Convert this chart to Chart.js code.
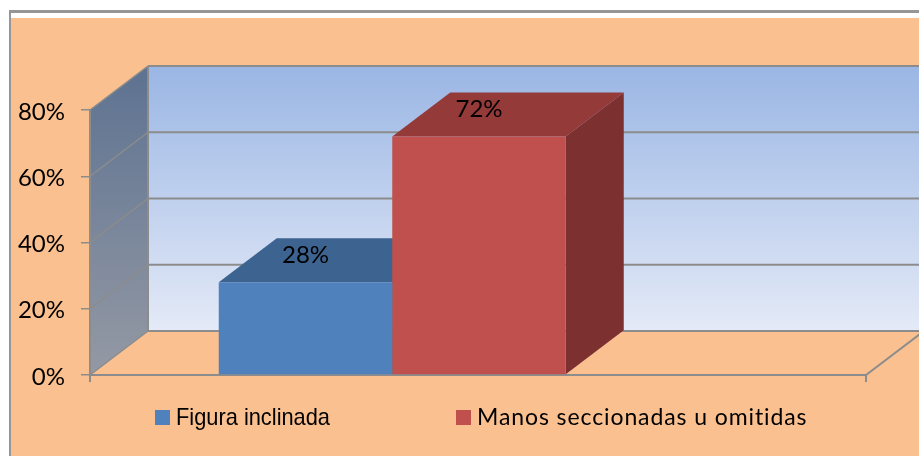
<!DOCTYPE html>
<html><head><meta charset="utf-8">
<style>html,body{margin:0;padding:0;background:#fff}canvas{display:block}</style>
<script src="https://cdn.jsdelivr.net/npm/chart.js@4"></script>
</head><body><canvas id="c" width="919" height="456"></canvas>
<script>
const categories = [""];
const seriesNames = ["Figura inclinada", "Manos seccionadas u omitidas", ""];
const figuraValues = [28];
const manosValues = [72];
const spacerValues = [null];
const yTickValues = [0, 20, 40, 60, 80];

const GRAY = "#8c8c8c", DX = 58, DY = -44;
function poly(ctx, pts, fill, stroke, lw) {
  ctx.beginPath();
  pts.forEach((p, i) => i ? ctx.lineTo(p[0], p[1]) : ctx.moveTo(p[0], p[1]));
  ctx.closePath();
  if (fill) { ctx.fillStyle = fill; ctx.fill(); }
  if (stroke) { ctx.strokeStyle = stroke; ctx.lineWidth = lw || 1; ctx.stroke(); }
}
const scene = {
  id: "scene",
  beforeDraw(chart) {
    const { ctx, scales: { x, y } } = chart;
    const l = x.left, r = x.right - 2, b = y.getPixelForValue(0), t = y.getPixelForValue(80);
    ctx.save();
    ctx.fillStyle = "#fff"; ctx.fillRect(0, 0, 919, 456);
    ctx.fillStyle = "#FAC090"; ctx.fillRect(10, 18, 909, 438);
    ctx.fillStyle = "#969696"; ctx.fillRect(9, 10, 910, 3); ctx.fillRect(9, 10, 2, 446);
    // back wall
    const g = ctx.createLinearGradient(0, t + DY, 0, b + DY);
    g.addColorStop(0, "#9AB6E4"); g.addColorStop(1, "#E4EAF7");
    poly(ctx, [[l + DX, t + DY], [r + DX, t + DY], [r + DX, b + DY], [l + DX, b + DY]], g);
    // side wall
    const s = ctx.createLinearGradient(0, t + DY, 0, b);
    s.addColorStop(0, "#5D7291"); s.addColorStop(1, "#9499A4");
    poly(ctx, [[l, t], [l + DX, t + DY], [l + DX, b + DY], [l, b]], s);
    // gridlines on walls
    yTickValues.forEach(v => {
      const p = y.getPixelForValue(v);
      ctx.strokeStyle = GRAY; ctx.lineWidth = 2;
      ctx.beginPath(); ctx.moveTo(l + DX, p + DY); ctx.lineTo(r + DX, p + DY); ctx.stroke();
      ctx.lineWidth = 1.5;
      ctx.beginPath(); ctx.moveTo(l, p); ctx.lineTo(l + DX, p + DY); ctx.stroke();
    });
    ctx.lineWidth = 2;
    ctx.beginPath(); ctx.moveTo(l + DX, t + DY); ctx.lineTo(l + DX, b + DY); ctx.stroke();
    // floor front edge, right edge and x end ticks
    ctx.beginPath(); ctx.moveTo(l, b); ctx.lineTo(r, b); ctx.lineTo(r + DX, b + DY); ctx.stroke();
    ctx.beginPath();
    ctx.moveTo(l, b); ctx.lineTo(l, b + 7);
    ctx.moveTo(r, b); ctx.lineTo(r, b + 7);
    ctx.stroke();
    ctx.restore();
  },
  beforeDatasetsDraw(chart) {
    const { ctx } = chart;
    const tops = ["#3D6390", "#943A39"], sides = ["#345478", "#7C3130"];
    ctx.save();
    [0, 1].forEach(i => {
      const el = chart.getDatasetMeta(i).data[0];
      const hw = el.width / 2, xl = el.x - hw, xr = el.x + hw, yt = el.y, yb = el.base;
      poly(ctx, [[xr, yt], [xr + DX, yt + DY], [xr + DX, yb + DY], [xr, yb]], sides[i]);
      poly(ctx, [[xl, yt], [xl + DX, yt + DY], [xr + DX, yt + DY], [xr, yt]], tops[i]);
    });
    ctx.restore();
  },
  afterDatasetsDraw(chart) {
    const { ctx } = chart;
    ctx.save();
    ctx.font = "24px Lato"; ctx.fillStyle = "#000";
    ctx.textAlign = "center"; ctx.textBaseline = "middle";
    [0, 1].forEach(i => {
      const el = chart.getDatasetMeta(i).data[0];
      const v = chart.data.datasets[i].data[0];
      ctx.fillText(v + "%", el.x, el.y - 27);
    });
    ctx.restore();
  },
  afterDraw(chart) {
    const { ctx } = chart, ds = chart.data.datasets;
    ctx.save();
    ctx.textBaseline = "alphabetic"; ctx.textAlign = "left";
    ctx.fillStyle = ds[0].backgroundColor; ctx.fillRect(155, 410, 15, 15);
    ctx.fillStyle = ds[1].backgroundColor; ctx.fillRect(456, 410, 15, 15);
    ctx.fillStyle = "#000";
    ctx.font = '24px "Liberation Sans"';
    ctx.fillText(ds[0].label, 176, 425, 154);
    ctx.font = "23px Lato"; ctx.letterSpacing = "0.9px";
    ctx.fillText(ds[1].label, 477, 424.5);
    ctx.restore();
  }
};
new Chart(document.getElementById("c"), {
  type: "bar",
  data: {
    labels: categories,
    datasets: [
      { label: seriesNames[0], data: figuraValues, backgroundColor: "#4F81BD" },
      { label: seriesNames[1], data: manosValues, backgroundColor: "#C0504D" },
      { label: seriesNames[2], data: spacerValues, backgroundColor: "transparent" }
    ]
  },
  plugins: [scene],
  options: {
    responsive: false, animation: false,
    layout: { padding: { left: 0, top: 110, right: 51, bottom: 81 } },
    datasets: { bar: { categoryPercentage: 0.669, barPercentage: 1 } },
    plugins: { legend: { display: false }, tooltip: { enabled: false }, title: { display: false } },
    scales: {
      x: {
        ticks: { display: false },
        grid: { display: false },
        border: { display: false },
        afterFit(s) { s.height = 0; }
      },
      y: {
        min: 0, max: 80,
        afterFit(s) { s.width = 90; },
        afterBuildTicks(s) { s.ticks = yTickValues.map(v => ({ value: v })); },
        ticks: { callback: v => v + "%", color: "#000", font: { family: "Lato", size: 24 }, padding: 16, labelOffset: 2 },
        grid: { drawOnChartArea: false, drawTicks: true, tickLength: 9, color: GRAY, lineWidth: 1.5 },
        border: { display: true, color: GRAY, width: 2 }
      }
    }
  }
});
</script></body></html>
